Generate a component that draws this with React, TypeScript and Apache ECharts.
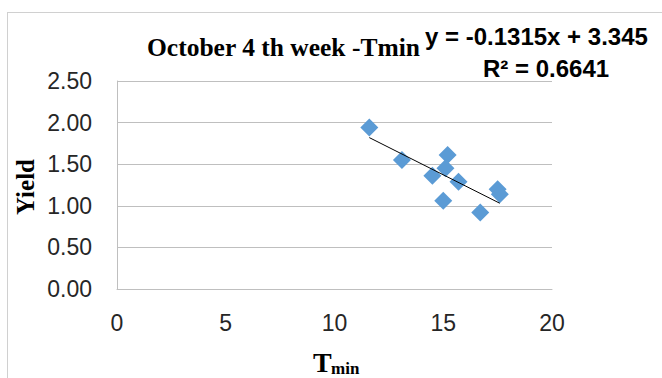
import React, { useEffect, useRef } from "react";
import * as echarts from "echarts";

const tmin: number[] = [11.6, 13.1, 15.2, 15.1, 14.5, 15.7, 15.0, 16.7, 17.5, 17.6];
const yieldValues: number[] = [1.94, 1.55, 1.61, 1.45, 1.36, 1.29, 1.06, 0.92, 1.20, 1.14];
const slope = -0.1315;
const intercept = 3.345;
const rSquared = "0.6641";
const xTicks: number[] = [0, 5, 10, 15, 20];
const yTicks: number[] = [0, 0.5, 1, 1.5, 2, 2.5];

export default function App() {
  const ref = useRef<HTMLDivElement>(null);
  useEffect(() => {
    if (!ref.current) return;
    const chart = echarts.init(ref.current, undefined, { renderer: "svg" });
    const points = tmin.map((x, i) => [x, yieldValues[i]]);
    const xMin = Math.min(...tmin);
    const xMax = Math.max(...tmin);
    const trend = [
      [xMin, slope * xMin + intercept],
      [xMax, slope * xMax + intercept],
    ];
    const sans = "'Liberation Sans', Arial, sans-serif";
    const serif = "'Liberation Serif', 'Times New Roman', serif";
    chart.setOption({
      animation: false,
      backgroundColor: "#ffffff",
      grid: { left: 117, right: 110, top: 81, bottom: 89, containLabel: false },
      xAxis: {
        type: "value",
        min: xTicks[0],
        max: xTicks[xTicks.length - 1],
        interval: 5,
        axisLine: { show: true, lineStyle: { color: "#bfbfbf", width: 1 } },
        axisTick: { show: false },
        splitLine: { show: false },
        axisLabel: { color: "#262626", fontSize: 23, fontFamily: sans, margin: 22 },
      },
      yAxis: {
        type: "value",
        min: yTicks[0],
        max: yTicks[yTicks.length - 1],
        interval: 0.5,
        axisLine: { show: true, lineStyle: { color: "#bfbfbf", width: 1 } },
        axisTick: { show: false },
        splitLine: { show: true, lineStyle: { color: "#bfbfbf", width: 1 } },
        axisLabel: {
          color: "#262626",
          fontSize: 23,
          fontFamily: sans,
          margin: 25,
          formatter: (v: number) => v.toFixed(2),
        },
      },
      series: [
        {
          type: "scatter",
          data: points,
          symbol: "diamond",
          symbolSize: 18,
          itemStyle: { color: "#5b9bd5", opacity: 1 },
          z: 3,
        },
        {
          type: "line",
          data: trend,
          symbol: "none",
          lineStyle: { color: "#000000", width: 1 },
          z: 4,
        },
      ],
      graphic: [
        { type: "line", shape: { x1: 7.5, y1: 12, x2: 7.5, y2: 378 }, style: { stroke: "#d0d0d0", lineWidth: 1 } },
        { type: "line", shape: { x1: 7, y1: 12.5, x2: 662, y2: 12.5 }, style: { stroke: "#d0d0d0", lineWidth: 1 } },
        {
          type: "text",
          x: 147,
          y: 47,
          style: {
            text: "October 4 th week -Tmin",
            font: `bold 25.5px ${serif}`,
            fill: "#000000",
            textAlign: "left",
            verticalAlign: "middle",
          },
        },
        {
          type: "text",
          x: 425,
          y: 36,
          style: {
            text: `y = ${slope}x + ${intercept}`,
            font: `bold 24px ${sans}`,
            fill: "#000000",
            textAlign: "left",
            verticalAlign: "middle",
          },
        },
        {
          type: "text",
          x: 483,
          y: 68,
          style: {
            text: `R² = ${rSquared}`,
            font: `bold 24px ${sans}`,
            fill: "#000000",
            textAlign: "left",
            verticalAlign: "middle",
          },
        },
        {
          type: "text",
          x: 25,
          y: 187,
          rotation: Math.PI / 2,
          style: {
            text: "Yield",
            font: `bold 25px ${serif}`,
            fill: "#000000",
            textAlign: "center",
            verticalAlign: "middle",
          },
        },
        {
          type: "text",
          x: 313,
          y: 362,
          style: {
            text: "T",
            font: `bold 28px ${serif}`,
            fill: "#000000",
            textAlign: "left",
            verticalAlign: "middle",
          },
        },
        {
          type: "text",
          x: 331,
          y: 368,
          style: {
            text: "min",
            font: `bold 17px ${serif}`,
            fill: "#000000",
            textAlign: "left",
            verticalAlign: "middle",
          },
        },
      ],
    });
    return () => chart.dispose();
  }, []);
  return (
    <div
      ref={ref}
      style={{ position: "absolute", left: 0, top: 0, width: 662, height: 378 }}
    />
  );
}
